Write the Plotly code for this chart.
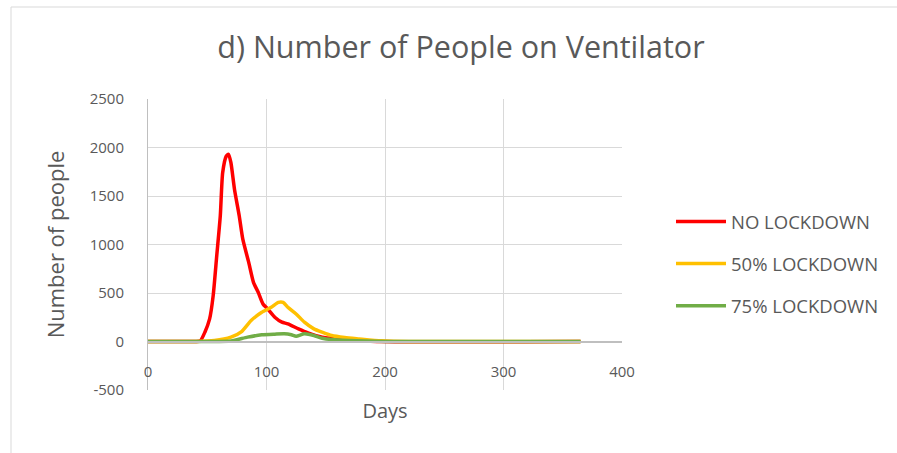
import plotly.graph_objects as go

# ---- data ----
no_lockdown_days = [0, 40, 44, 48, 52, 55, 58, 61, 63, 66, 68, 70, 73, 77, 80, 85, 89, 93, 97, 101,
                    107, 113, 118, 127, 135, 147, 161, 175, 197, 365]
no_lockdown_vals = [0, 0, 5, 96, 233, 473, 883, 1294, 1740, 1910, 1930, 1842, 1568, 1294, 1055, 815,
                    610, 507, 387, 336, 250, 199, 182, 130, 89, 45, 27, 14, 0, 0]

lock50_days = [0, 40, 56, 70, 79, 87, 96, 104, 110, 114, 118, 125, 132, 140, 147, 155, 166, 178, 197, 220, 365]
lock50_vals = [0, 0, 10, 45, 103, 216, 301, 353, 404, 404, 353, 284, 199, 130, 96, 62, 41, 27, 7, 0, 0]

lock75_days = [0, 50, 70, 84, 96, 107, 115, 121, 125, 132, 140, 147, 155, 169, 200, 365]
lock75_vals = [0, 0, 5, 45, 69, 76, 79, 69, 55, 79, 62, 34, 20, 10, 0, 0]

series_names = ["NO LOCKDOWN", "50% LOCKDOWN", "75% LOCKDOWN"]
series_colors = ["#FF0000", "#FFC000", "#70AD47"]

x_ticks = [0, 100, 200, 300, 400]
y_ticks = [-500, 0, 500, 1000, 1500, 2000, 2500]

FONT = "Open Sans"
GREY = "#595959"

fig = go.Figure()
for i, (d, v) in enumerate([(no_lockdown_days, no_lockdown_vals),
                            (lock50_days, lock50_vals),
                            (lock75_days, lock75_vals)]):
    fig.add_trace(go.Scatter(
        x=d, y=v, mode="lines", name=series_names[i], legendgroup=str(i),
        line=dict(color=series_colors[i], width=3.5, shape="spline", smoothing=0.6),
    ))

W, H = 897, 453
L, R, T, B = 148, 275, 99, 63

fig.update_layout(
    width=W, height=H,
    margin=dict(l=L, r=R, t=T, b=B),
    paper_bgcolor="white", plot_bgcolor="white",
    font=dict(family=FONT, color=GREY, size=16),
    title=dict(text="d) Number of People on Ventilator", x=461 / W, xanchor="center",
               y=1 - 47 / H, yanchor="middle", font=dict(size=30.5, color=GREY, family=FONT)),
    showlegend=True,
    legend=dict(xref="container", yref="container",
                x=671 / W, y=1 - 203 / H, xanchor="left", yanchor="top",
                font=dict(size=18.5, color=GREY, family=FONT), tracegroupgap=15,
                itemwidth=50, bgcolor="rgba(0,0,0,0)"),
    xaxis=dict(range=[0, 400], tickvals=x_ticks, ticktext=[str(t) for t in x_ticks],
               showgrid=True, gridcolor="#D9D9D9", gridwidth=1,
               anchor="free", position=500 / 3000,
               showline=True, linecolor="#BFBFBF", linewidth=1.5,
               zeroline=False, ticks="", ticklabelstandoff=17,
               tickfont=dict(size=15, color=GREY),
               title=dict(text="Days", font=dict(size=20, color=GREY), standoff=23)),
    yaxis=dict(range=[-500, 2500], tickvals=y_ticks, ticktext=[str(t) for t in y_ticks],
               showgrid=True, gridcolor="#D9D9D9", gridwidth=1,
               showline=True, linecolor="#BFBFBF", linewidth=1,
               zeroline=False, ticks="", ticklabelstandoff=20,
               tickfont=dict(size=15, color=GREY),
               title=dict(text="Number of people", font=dict(size=22, color=GREY), standoff=18)),
)

# outer chart-area border (Excel style)
pw, ph = W - L - R, H - T - B
fig.add_shape(type="rect", xref="paper", yref="paper",
              x0=(11 - L) / pw, x1=(W + 30 - L) / pw,
              y0=-(H + 30 - T - ph) / ph, y1=1 + (T - 7) / ph,
              line=dict(color="#D9D9D9", width=1), fillcolor="rgba(0,0,0,0)", layer="below")

fig.write_html("out.html", config={"displayModeBar": False})

# remove the browser's default 8px body margin so the figure sits at the page origin
with open("out.html", "r", encoding="utf-8") as f:
    html = f.read()
html = html.replace("<body>", '<body style="margin:0;padding:0;">', 1)
with open("out.html", "w", encoding="utf-8") as f:
    f.write(html)
